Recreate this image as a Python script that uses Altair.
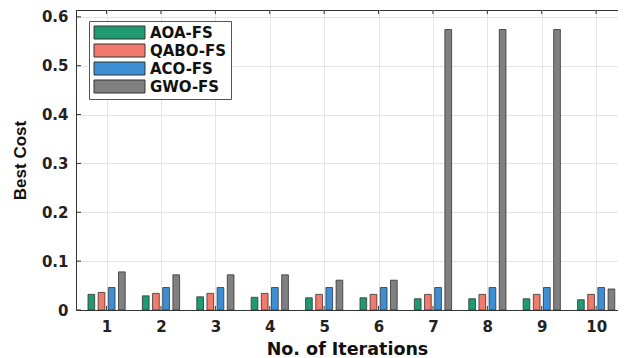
import altair as alt
import pandas as pd

iterations = [1, 2, 3, 4, 5, 6, 7, 8, 9, 10]
methods = ["AOA-FS", "QABO-FS", "ACO-FS", "GWO-FS"]
colors = ["#1f9a72", "#f27a6d", "#3d8fd5", "#808080"]
aoa = [0.032, 0.029, 0.027, 0.026, 0.025, 0.025, 0.023, 0.023, 0.023, 0.021]
qabo = [0.036, 0.034, 0.034, 0.034, 0.032, 0.032, 0.032, 0.032, 0.032, 0.032]
aco = [0.046, 0.046, 0.046, 0.046, 0.046, 0.046, 0.046, 0.046, 0.046, 0.046]
gwo = [0.078, 0.072, 0.072, 0.072, 0.061, 0.061, 0.574, 0.574, 0.574, 0.043]
y_ticks = [0, 0.1, 0.2, 0.3, 0.4, 0.5, 0.6]

rows = []
for m, vals in zip(methods, [aoa, qabo, aco, gwo]):
    for it, v in zip(iterations, vals):
        rows.append({"Iteration": it, "Method": m, "Cost": v})
df = pd.DataFrame(rows)

xscale = alt.Scale(domain=[0.53, 10.31], nice=False, zero=False)
yscale = alt.Scale(domain=[0, 0.614], nice=False, zero=True)

xaxis = alt.Axis(values=iterations, title="No. of Iterations", grid=True,
                 tickSize=0, labelPadding=9, titlePadding=6, titleFontSize=17.5)
yaxis = alt.Axis(values=y_ticks, format="~g", title="Best Cost", grid=True,
                 tickSize=0, labelPadding=8, titlePadding=12,
                 titleFont="Liberation Sans", titleFontSize=17)

bars = alt.Chart(df).transform_calculate(
    pos="datum.Iteration + indexof(['AOA-FS','QABO-FS','ACO-FS','GWO-FS'], datum.Method) * 0.187 - 0.28"
).mark_bar(size=6.7, stroke="#333333", strokeWidth=0.8, clip=True).encode(
    x=alt.X("pos:Q", scale=xscale, axis=xaxis),
    y=alt.Y("Cost:Q", scale=yscale, axis=yaxis),
    color=alt.Color("Method:N", scale=alt.Scale(domain=methods, range=colors),
                    sort=methods,
                    legend=alt.Legend(title=None, orient="none", legendX=13, legendY=11,
                                      symbolType="M-3.92,-1H3.92V1H-3.92Z",
                                      symbolSize=169, symbolOffset=19, labelOffset=23,
                                      symbolStrokeColor="#333333", symbolStrokeWidth=1,
                                      labelFont="DejaVu Sans", labelFontWeight="bold",
                                      labelFontSize=15, labelColor="#111111",
                                      padding=4, rowPadding=1,
                                      strokeColor="#555555", fillColor="#ffffff")),
)

ytick_df = pd.DataFrame({"Cost": y_ticks})
xtick_df = pd.DataFrame({"pos": iterations})

ytk = alt.Chart(ytick_df).mark_rule(color="#333333", strokeWidth=1).encode(
    y=alt.Y("Cost:Q", scale=yscale, axis=yaxis), x=alt.value(0), x2=alt.value(5))
xtk_top = alt.Chart(xtick_df).mark_rule(color="#333333", strokeWidth=1).encode(
    x=alt.X("pos:Q", scale=xscale, axis=xaxis), y=alt.value(0), y2=alt.value(4))
xtk_bot = alt.Chart(xtick_df).mark_rule(color="#333333", strokeWidth=1).encode(
    x=alt.X("pos:Q", scale=xscale, axis=xaxis), y=alt.value(300), y2=alt.value(296))

chart = alt.layer(bars, ytk, xtk_top, xtk_bot).properties(
    width=542, height=300, autosize="none",
    padding={"left": 68, "top": 2, "right": 0, "bottom": 48},
).configure_view(stroke="#333333", strokeWidth=1).configure_axis(
    domainColor="#333333", gridColor="#e4e4e4", gridWidth=1,
    labelFont="DejaVu Sans", labelFontWeight="bold", labelFontSize=15, labelColor="#222222",
    titleFont="DejaVu Sans", titleFontWeight="bold", titleFontSize=18, titleColor="#111111",
)

chart.save("out.html", embed_options={"renderer": "svg", "actions": False})
